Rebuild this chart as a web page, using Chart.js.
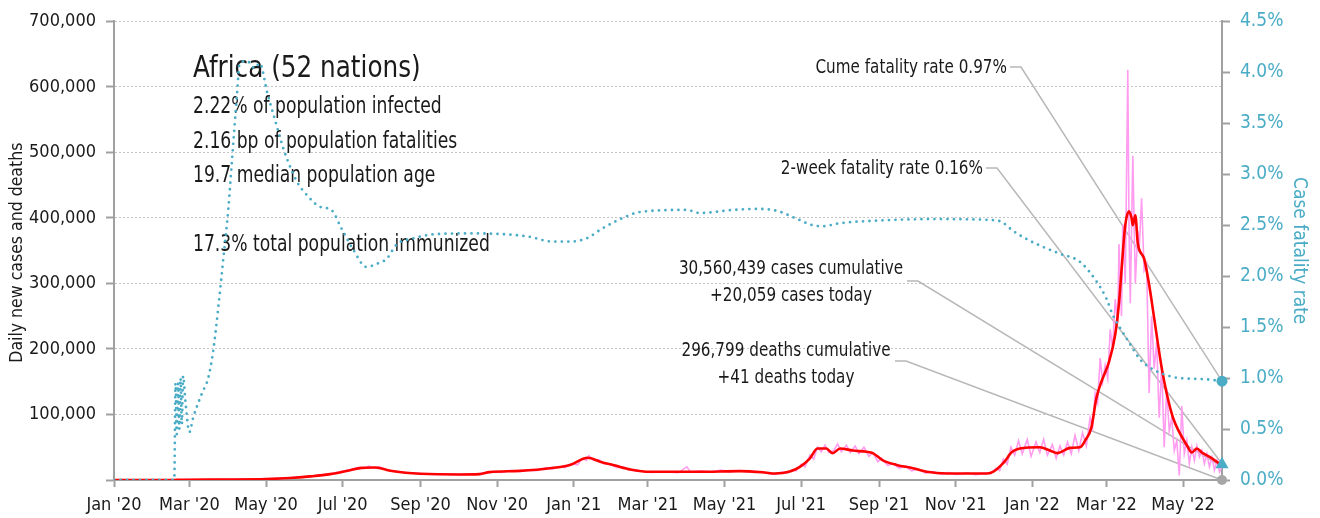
<!DOCTYPE html>
<html>
<head>
<meta charset="utf-8">
<script src="https://cdn.jsdelivr.net/npm/chart.js@4.4.0/dist/chart.umd.min.js"></script>
<style>
  html, body { margin: 0; padding: 0; background: #fff; }
</style>
</head>
<body>
<canvas id="grafico" width="1320" height="518"></canvas>
<script>
// ---- data ----
const xTickDates = ['2020-01-01', '2020-03-01', '2020-05-01', '2020-07-01', '2020-09-01', '2020-11-01',
                    '2021-01-01', '2021-03-01', '2021-05-01', '2021-07-01', '2021-09-01', '2021-11-01',
                    '2022-01-01', '2022-03-01', '2022-05-01'];
const xTickLabels = ["Jan '20", "Mar '20", "May '20", "Jul '20", "Sep '20", "Nov '20",
                     "Jan '21", "Mar '21", "May '21", "Jul '21", "Sep '21", "Nov '21",
                     "Jan '22", "Mar '22", "May '22"];
const leftTicks = [0, 100000, 200000, 300000, 400000, 500000, 600000, 700000];
const rightTicks = [0, 0.5, 1, 1.5, 2, 2.5, 3, 3.5, 4, 4.5];

const lastDate = '2022-06-01';

// daily new cases
const caseDates = [
  '2020-01-01', '2020-02-18', '2020-02-25', '2020-04-01', '2020-05-01', '2020-05-20', '2020-06-05', '2020-06-21',
  '2020-07-07', '2020-07-14', '2020-07-18', '2020-07-22', '2020-07-26', '2020-07-30', '2020-08-04', '2020-08-10',
  '2020-08-20', '2020-09-01', '2020-10-02', '2020-10-18', '2020-10-26', '2020-11-05', '2020-11-12', '2020-11-19',
  '2020-11-26', '2020-12-03', '2020-12-10', '2020-12-15', '2020-12-20', '2020-12-25', '2020-12-30', '2021-01-04',
  '2021-01-08', '2021-01-11', '2021-01-13', '2021-01-17', '2021-01-21', '2021-01-25', '2021-01-30', '2021-02-04',
  '2021-02-10', '2021-02-15', '2021-02-22', '2021-03-03', '2021-03-15', '2021-03-25', '2021-04-01', '2021-04-04',
  '2021-04-12', '2021-04-20', '2021-04-28', '2021-05-05', '2021-05-13', '2021-05-20', '2021-05-27', '2021-06-03',
  '2021-06-10', '2021-06-16', '2021-06-20', '2021-06-24', '2021-06-27', '2021-07-01', '2021-07-04', '2021-07-08',
  '2021-07-11', '2021-07-14', '2021-07-17', '2021-07-20', '2021-07-23', '2021-07-27', '2021-07-30', '2021-08-02',
  '2021-08-06', '2021-08-09', '2021-08-13', '2021-08-16', '2021-08-20', '2021-08-24', '2021-08-27', '2021-08-31',
  '2021-09-03', '2021-09-08', '2021-09-12', '2021-09-17', '2021-09-22', '2021-09-27', '2021-10-02', '2021-10-08',
  '2021-10-14', '2021-10-20', '2021-10-26', '2021-11-02', '2021-11-10', '2021-11-17', '2021-11-24', '2021-11-29',
  '2021-12-03', '2021-12-06', '2021-12-09', '2021-12-12', '2021-12-15', '2021-12-18', '2021-12-21', '2021-12-24',
  '2021-12-28', '2021-12-31', '2022-01-04', '2022-01-07', '2022-01-10', '2022-01-13', '2022-01-17', '2022-01-20',
  '2022-01-23', '2022-01-26', '2022-01-29', '2022-02-01', '2022-02-04', '2022-02-07', '2022-02-10', '2022-02-13',
  '2022-02-16', '2022-02-18', '2022-02-20', '2022-02-22', '2022-02-24', '2022-02-26', '2022-02-28', '2022-03-02',
  '2022-03-04', '2022-03-06', '2022-03-08', '2022-03-10', '2022-03-11', '2022-03-13', '2022-03-14', '2022-03-16',
  '2022-03-18', '2022-03-19', '2022-03-20', '2022-03-22', '2022-03-24', '2022-03-26', '2022-03-27', '2022-03-29',
  '2022-03-31', '2022-04-02', '2022-04-04', '2022-04-06', '2022-04-08', '2022-04-10', '2022-04-12', '2022-04-14',
  '2022-04-16', '2022-04-18', '2022-04-20', '2022-04-22', '2022-04-24', '2022-04-26', '2022-04-28', '2022-04-30',
  '2022-05-02', '2022-05-04', '2022-05-06', '2022-05-08', '2022-05-10', '2022-05-12', '2022-05-14', '2022-05-16',
  '2022-05-18', '2022-05-20', '2022-05-22', '2022-05-24', '2022-05-26', '2022-05-28', '2022-05-30', '2022-06-01'
];
const dailyCases = [
  0, 0, 200, 900, 1700, 3200, 5800, 9500,
  16000, 19500, 17500, 21000, 18000, 20500, 16000, 13500,
  11500, 9500, 8300, 9500, 12500, 11500, 14500, 13000,
  15000, 14500, 19000, 16500, 20500, 19000, 25000, 23000,
  33000, 30000, 37000, 30000, 31000, 25000, 24000, 19000,
  19500, 15000, 14000, 11500, 12500, 11000, 20000, 12000,
  14000, 12000, 15000, 12000, 14500, 12000, 13000, 10500,
  8500, 12000, 10500, 16000, 14000, 24000, 20000, 38000,
  32000, 50000, 43000, 53000, 42000, 45000, 55000, 43000,
  53000, 42000, 52000, 40000, 50000, 36000, 42000, 28000,
  33000, 22000, 25000, 18000, 21000, 14000, 17000, 10500,
  13000, 9000, 11500, 8500, 11000, 8000, 10500, 9500,
  18000, 14000, 32000, 24000, 50000, 38000, 60000, 40000,
  62000, 36000, 58000, 42000, 62000, 38000, 54000, 33000,
  52000, 38000, 58000, 40000, 68000, 45000, 72000, 52000,
  95000, 80000, 132000, 118000, 186000, 150000, 175000, 155000,
  230000, 200000, 276000, 240000, 360000, 250000, 390000, 300000,
  626000, 380000, 270000, 495000, 300000, 380000, 350000, 430000,
  320000, 330000, 133000, 250000, 170000, 210000, 95000, 175000,
  50000, 140000, 75000, 95000, 45000, 60000, 7000, 113000,
  40000, 60000, 25000, 50000, 30000, 52000, 35000, 45000,
  25000, 40000, 20000, 35000, 15000, 30000, 12000, 20059
];

// 7-day average of new cases
const avgDates = [
  '2020-01-01', '2020-02-18', '2020-02-22', '2020-04-01', '2020-05-01', '2020-05-20', '2020-06-05', '2020-06-21',
  '2020-07-07', '2020-07-16', '2020-07-27', '2020-08-08', '2020-08-20', '2020-09-01', '2020-10-02', '2020-10-18',
  '2020-10-26', '2020-11-19', '2020-12-13', '2020-12-29', '2021-01-12', '2021-01-22', '2021-02-03', '2021-02-15',
  '2021-03-03', '2021-04-11', '2021-05-13', '2021-06-02', '2021-06-10', '2021-06-22', '2021-06-30', '2021-07-08',
  '2021-07-14', '2021-07-21', '2021-07-26', '2021-08-01', '2021-08-11', '2021-08-22', '2021-08-27', '2021-09-04',
  '2021-09-15', '2021-09-28', '2021-10-09', '2021-10-25', '2021-11-26', '2021-12-01', '2021-12-09', '2021-12-16',
  '2021-12-22', '2022-01-07', '2022-01-15', '2022-01-21', '2022-01-31', '2022-02-08', '2022-02-12', '2022-02-17',
  '2022-02-21', '2022-02-25', '2022-03-03', '2022-03-08', '2022-03-11', '2022-03-13', '2022-03-16', '2022-03-19',
  '2022-03-21', '2022-03-22', '2022-03-24', '2022-03-26', '2022-03-31', '2022-04-04', '2022-04-08', '2022-04-11',
  '2022-04-14', '2022-04-18', '2022-04-23', '2022-04-28', '2022-05-04', '2022-05-08', '2022-05-12', '2022-05-16',
  '2022-05-24', '2022-06-01'
];
const avgCases = [
  0, 0, 300, 800, 1500, 3000, 5500, 9000,
  15000, 18500, 19000, 14000, 11000, 9500, 8500, 9000,
  12000, 14000, 18000, 23000, 34000, 28000, 22000, 16000,
  12500, 12500, 13500, 11500, 10000, 13000, 20000, 33000,
  48000, 48000, 41000, 48000, 45000, 43000, 41000, 30000,
  23000, 18000, 12600, 10000, 10000, 12600, 26000, 43000,
  48000, 50000, 45000, 41000, 49000, 50000, 60000, 80000,
  125000, 150000, 180000, 222000, 270000, 320000, 389000, 410000,
  400000, 389000, 404000, 361000, 338000, 298000, 247000, 208000,
  171000, 132000, 95000, 73000, 53000, 42000, 48000, 42000,
  33000, 22000
];

// case fatality rate, percent
const rateDates = [
  '2020-01-01', '2020-02-18', '2020-02-19', '2020-02-20', '2020-02-21', '2020-02-22', '2020-02-23', '2020-02-24',
  '2020-02-25', '2020-02-27', '2020-03-01', '2020-03-04', '2020-03-11', '2020-03-16', '2020-03-20', '2020-03-24',
  '2020-03-28', '2020-04-01', '2020-04-04', '2020-04-08', '2020-04-10', '2020-04-16', '2020-04-22', '2020-04-26',
  '2020-05-02', '2020-05-08', '2020-05-16', '2020-05-26', '2020-06-03', '2020-06-13', '2020-06-22', '2020-06-30',
  '2020-07-09', '2020-07-20', '2020-07-28', '2020-08-05', '2020-08-13', '2020-08-26', '2020-09-11', '2020-10-13',
  '2020-11-25', '2020-12-15', '2020-12-29', '2021-01-11', '2021-01-24', '2021-02-07', '2021-02-23', '2021-04-01',
  '2021-04-11', '2021-05-08', '2021-05-27', '2021-06-12', '2021-06-28', '2021-07-10', '2021-07-18', '2021-08-01',
  '2021-08-22', '2021-10-14', '2021-12-01', '2021-12-08', '2021-12-16', '2021-12-28', '2022-01-09', '2022-01-23',
  '2022-02-08', '2022-02-21', '2022-03-01', '2022-03-06', '2022-03-12', '2022-03-20', '2022-03-28', '2022-04-05',
  '2022-04-15', '2022-04-28', '2022-05-17', '2022-06-01'
];
const fatalityRate = [
  0, 0, 0.95, 0.45, 0.95, 0.5, 1.0, 0.55,
  1.02, 0.75, 0.47, 0.61, 0.85, 1.0, 1.27, 1.69,
  2.17, 2.66, 3.15, 3.8, 4.09, 4.11, 4.04, 4.09,
  3.8, 3.54, 3.21, 2.92, 2.79, 2.68, 2.65, 2.47,
  2.27, 2.09, 2.12, 2.17, 2.31, 2.37, 2.41, 2.42,
  2.39, 2.34, 2.34, 2.37, 2.47, 2.56, 2.63, 2.65,
  2.62, 2.65, 2.66, 2.64, 2.56, 2.5, 2.49, 2.52,
  2.54, 2.56, 2.55, 2.53, 2.45, 2.36, 2.29, 2.22,
  2.14, 1.95, 1.78, 1.62, 1.49, 1.33, 1.18, 1.1,
  1.04, 1.0, 0.99, 0.97
];

// latest figures
const cumeRate = 0.97;
const twoWeekRate = 0.16;
const casesCumulative = 30560439;
const casesToday = 20059;
const deathsCumulative = 296799;
const deathsToday = 41;

const regionTitle = 'Africa (52 nations)';
const infoLines = [
  '2.22% of population infected',
  '2.16 bp of population fatalities',
  '19.7 median population age',
  '',
  '17.3% total population immunized'
];

// ---- helpers ----
const FONT = "'Liberation Sans Narrow', 'DejaVu Sans Condensed', 'Arial Narrow', sans-serif";
const TEAL = '#4bacc6';
const PINK = '#ff9cf0';
const RED = '#ff0000';
const AXIS_GREY = '#a0a0a0';
const TEXT = '#1a1a1a';

const START = Date.UTC(2020, 0, 1);
function dayOf(s) {
    const [yy, mm, dd] = s.split('-').map(Number);
    return (Date.UTC(yy, mm - 1, dd) - START) / 86400000;
}
function toPoints(dates, values) {
    return dates.map((d, i) => ({ x: dayOf(d), y: values[i] }));
}
const fmt = n => n.toLocaleString('en-US');

// text squeezed sideways so the condensed face keeps its height
function squeezedText(ctx, text, x, y, align, sx) {
    ctx.save();
    ctx.translate(x, y);
    ctx.scale(sx, 1);
    ctx.textAlign = align;
    ctx.fillText(text, 0, 0);
    ctx.restore();
}

// text, leader lines and end markers
const notesPlugin = {
    id: 'notes',
    beforeDatasetsDraw(chart) {
        const { ctx, scales: { x, y, y1 } } = chart;
        const xEnd = x.getPixelForValue(dayOf(lastDate));
        ctx.save();
        ctx.fillStyle = TEXT;
        ctx.textBaseline = 'alphabetic';
        ctx.font = `30px ${FONT}`;
        squeezedText(ctx, regionTitle, 193, 77, 'left', 0.915);
        ctx.font = `23px ${FONT}`;
        infoLines.forEach((t, i) => squeezedText(ctx, t, 193, 113 + i * 34.6, 'left', 0.83));

        const callouts = [
            { lines: [`Cume fatality rate ${cumeRate.toFixed(2)}%`], tx: 1007, ty: 68, align: 'right', lx: 1010, ly: 67, end: y1.getPixelForValue(cumeRate) },
            { lines: [`2-week fatality rate ${twoWeekRate.toFixed(2)}%`], tx: 983, ty: 169, align: 'right', lx: 986, ly: 168, end: y1.getPixelForValue(twoWeekRate) },
            { lines: [`${fmt(casesCumulative)} cases cumulative`, `+${fmt(casesToday)} cases today`], tx: 791, ty: 269, align: 'center', lx: 907, ly: 281, end: y.getPixelForValue(casesToday) },
            { lines: [`${fmt(deathsCumulative)} deaths cumulative`, `+${fmt(deathsToday)} deaths today`], tx: 786, ty: 351, align: 'center', lx: 895, ly: 361, end: y.getPixelForValue(deathsToday) }
        ];
        ctx.strokeStyle = '#b8b8b8';
        ctx.lineWidth = 1.5;
        callouts.forEach(c => {
            ctx.beginPath();
            ctx.moveTo(c.lx, c.ly);
            ctx.lineTo(c.lx + 11, c.ly);
            ctx.lineTo(xEnd, c.end);
            ctx.stroke();
        });
        ctx.font = `19px ${FONT}`;
        ctx.textBaseline = 'middle';
        callouts.forEach(c => {
            c.lines.forEach((t, i) => squeezedText(ctx, t, c.tx, c.ty + i * 27, c.align, 0.89));
        });
        ctx.restore();
    },
    afterDatasetsDraw(chart) {
        const { ctx, scales: { x, y, y1 } } = chart;
        const xEnd = x.getPixelForValue(dayOf(lastDate));
        ctx.save();
        // deaths today
        ctx.fillStyle = '#a6a6a6';
        ctx.beginPath();
        ctx.arc(xEnd, y.getPixelForValue(deathsToday), 5, 0, Math.PI * 2);
        ctx.fill();
        // cumulative fatality rate
        ctx.fillStyle = TEAL;
        ctx.beginPath();
        ctx.arc(xEnd, y1.getPixelForValue(cumeRate), 5.5, 0, Math.PI * 2);
        ctx.fill();
        // 2-week fatality rate
        const ty = y1.getPixelForValue(twoWeekRate);
        ctx.beginPath();
        ctx.moveTo(xEnd, ty - 7);
        ctx.lineTo(xEnd + 6.5, ty + 4.5);
        ctx.lineTo(xEnd - 6.5, ty + 4.5);
        ctx.closePath();
        ctx.fill();
        ctx.restore();
    },
    afterDraw(chart) {
        const { ctx, chartArea } = chart;
        const midY = (chartArea.top + chartArea.bottom) / 2;
        ctx.save();
        ctx.font = `17.5px ${FONT}`;
        ctx.textAlign = 'center';
        ctx.textBaseline = 'middle';
        ctx.fillStyle = TEXT;
        ctx.translate(17, midY + 2);
        ctx.rotate(-Math.PI / 2);
        ctx.fillText('Daily new cases and deaths', 0, 0);
        ctx.restore();
        ctx.save();
        ctx.font = `19px ${FONT}`;
        ctx.textAlign = 'center';
        ctx.textBaseline = 'middle';
        ctx.fillStyle = TEAL;
        ctx.translate(1299, midY);
        ctx.rotate(Math.PI / 2);
        ctx.fillText('Case fatality rate', 0, 0);
        ctx.restore();
    }
};

Chart.defaults.font.family = FONT;
Chart.defaults.color = TEXT;

new Chart(document.getElementById('grafico'), {
    type: 'line',
    data: {
        datasets: [
            {
                label: 'Daily new cases',
                data: toPoints(caseDates, dailyCases),
                borderColor: PINK,
                borderWidth: 1.6,
                pointRadius: 0,
                yAxisID: 'y',
                order: 3
            },
            {
                label: '7-day average',
                data: toPoints(avgDates, avgCases),
                borderColor: RED,
                borderWidth: 2.6,
                pointRadius: 0,
                cubicInterpolationMode: 'monotone',
                yAxisID: 'y',
                order: 2
            },
            {
                label: 'Case fatality rate',
                data: toPoints(rateDates, fatalityRate),
                borderColor: TEAL,
                borderWidth: 2.8,
                borderDash: [0, 6.5],
                borderCapStyle: 'round',
                pointRadius: 0,
                cubicInterpolationMode: 'monotone',
                yAxisID: 'y1',
                order: 1
            }
        ]
    },
    options: {
        responsive: false,
        animation: false,
        layout: { padding: { top: 18, left: 0, right: 0, bottom: 0 } },
        plugins: { legend: { display: false }, tooltip: { enabled: false } },
        scales: {
            x: {
                type: 'linear',
                min: 0,
                max: dayOf(lastDate),
                afterBuildTicks: s => { s.ticks = xTickDates.map(d => ({ value: dayOf(d) })); },
                afterFit: s => { s.height = 38; },
                ticks: {
                    autoSkip: false,
                    maxRotation: 0,
                    padding: 8,
                    font: { size: 18 },
                    color: TEXT,
                    callback: (v, i) => xTickLabels[i]
                },
                grid: { drawOnChartArea: false, drawTicks: true, tickLength: 7, tickColor: AXIS_GREY, tickWidth: 2 },
                border: { color: AXIS_GREY, width: 2 }
            },
            y: {
                position: 'left',
                min: 0,
                max: 700000,
                afterBuildTicks: s => { s.ticks = leftTicks.map(v => ({ value: v })); },
                afterFit: s => { s.width = 114; },
                ticks: {
                    padding: 10,
                    font: { size: 18 },
                    color: TEXT,
                    callback: v => (v === 0 ? '' : fmt(v))
                },
                grid: { color: '#c4c4c4', lineWidth: 1, tickLength: 8, tickColor: AXIS_GREY, tickWidth: 2 },
                border: { color: AXIS_GREY, width: 2, dash: [2, 2] }
            },
            y1: {
                position: 'right',
                min: 0,
                max: 4.5,
                afterBuildTicks: s => { s.ticks = rightTicks.map(v => ({ value: v })); },
                afterFit: s => { s.width = 98; },
                ticks: {
                    padding: 10,
                    font: { size: 19 },
                    color: TEAL,
                    callback: v => v.toFixed(1) + '%'
                },
                grid: { drawOnChartArea: false, tickLength: 8, tickColor: AXIS_GREY, tickWidth: 2 },
                border: { color: AXIS_GREY, width: 2 }
            }
        }
    },
    plugins: [notesPlugin]
});
</script>
</body>
</html>
